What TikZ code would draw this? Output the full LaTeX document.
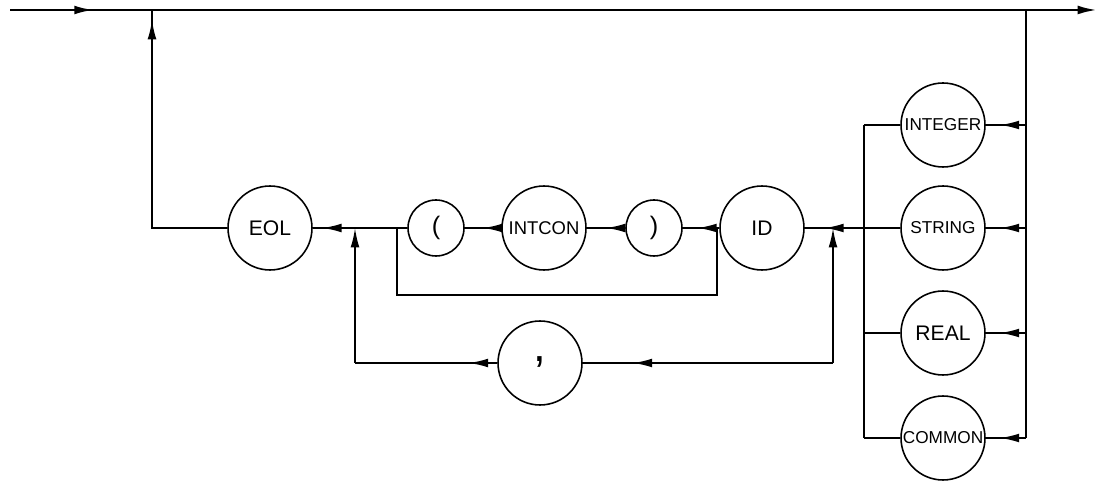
\documentclass[tikz,border=0pt]{standalone}
\usepackage{fontspec}
\setmainfont{Liberation Sans}
\usetikzlibrary{arrows.meta,decorations.markings}

\tikzset{
  flow/.style={line width=1pt},
  tip/.style={-{Latex[length=11pt,width=5pt]}},
  term/.style={circle,draw,line width=0.9pt,minimum size=1.68cm,inner sep=0pt,font=\fontsize{12}{14}\selectfont},
  kword/.style={term,font=\fontsize{9.8}{11}\selectfont},
  punct/.style={circle,draw,line width=0.9pt,minimum size=1.12cm,inner sep=0pt,font=\Large},
  midarrow/.style={postaction={decorate},
    decoration={markings,mark=at position #1 with {\arrow{Latex[length=11pt,width=5pt]}}}},
}

\begin{document}
\begin{tikzpicture}[x=0.02cm,y=-0.02cm]
  \useasboundingbox (0,0) rectangle (1098,482);

  % --- Levels (pixels, y downwards) ---
  \def\ytop{10}     % top line
  \def\ymain{228}   % main line
  \def\yloop{295}   % bypass under ( INTCON )
  \def\ycomma{363}  % comma loop

  % --- Terms on the main line ---
  \node[term]  (eol)    at (270,\ymain) {EOL};
  \node[punct] (lparen) at (436,\ymain) {(};
  \node[term,font=\fontsize{10.5}{12}\selectfont] (intcon) at (544,\ymain) {INTCON};
  \node[punct] (rparen) at (654,\ymain) {)};
  \node[term]  (id)     at (762,\ymain) {ID};
  \node[term,font=\fontsize{26}{28}\selectfont] (comma) at (540,\ycomma) {\raisebox{0.3ex}{,}};

  % --- Type keywords ---
  \node[kword] (integer) at (943,125) {INTEGER};
  \node[kword] (string)  at (943,\ymain) {STRING};
  \node[term]  (real)    at (943,333) {REAL};
  \node[kword] (common)  at (943,438) {COMMON};

  % --- Junctions ---
  \coordinate (start)  at (10,\ytop);
  \coordinate (finish) at (1097,\ytop);
  \coordinate (jup)    at (152,\ytop);
  \coordinate (jdown)  at (1026,\ytop);
  \coordinate (jcl)    at (355,\ymain);  % comma loop, left end
  \coordinate (jcr)    at (833,\ymain);  % comma loop, right end
  \coordinate (jbl)    at (397,\ymain);  % bypass, left end
  \coordinate (jbr)    at (717,\ymain);  % bypass, right end
  \coordinate (jtype)  at (864,\ymain);
  \coordinate (vltop)  at (864,125);
  \coordinate (vlbot)  at (864,438);
  \coordinate (vrbot)  at (1026,438);

  % --- Top line ---
  \draw[flow,line width=1.4pt,midarrow=0.077,tip] (start) -- (finish);

  % --- Right side: down to the type keywords ---
  \draw[flow] (jdown) -- (vrbot);
  \foreach \t/\y in {integer/125,string/\ymain,real/333,common/438}
    \draw[flow,midarrow=0.65] (1026,\y) -- (\t.east);
  \draw[flow] (vltop) -- (vlbot);
  \foreach \t/\y in {integer/125,real/333,common/438}
    \draw[flow] (864,\y) -- (\t.west);
  \draw[flow] (string.west) -- (jtype);

  % --- Main line, right to left ---
  \draw[flow,midarrow=0.67] (jtype) -- (id.east);
  \draw[flow,midarrow=0.6] (id.west) -- (rparen.east);
  \draw[flow,midarrow=0.5] (rparen) -- (intcon);
  \draw[flow,midarrow=0.5] (intcon) -- (lparen);
  \draw[flow,midarrow=0.9] (lparen.west) -- (eol.east);
  \draw[flow,midarrow=0.966] (eol.west) -| (jup);

  % --- Bypass under ( INTCON ) ---
  \draw[flow] (jbr) -- (717,\yloop) -| (jbl);

  % --- Comma loop ---
  \draw[flow,tip] (833,\ycomma) -- (jcr);
  \draw[flow,midarrow=0.8] (833,\ycomma) -- (comma.east);
  \draw[flow,midarrow=0.2] (comma.west) -- (355,\ycomma);
  \draw[flow,tip] (355,\ycomma) -- (jcl);
\end{tikzpicture}
\end{document}
